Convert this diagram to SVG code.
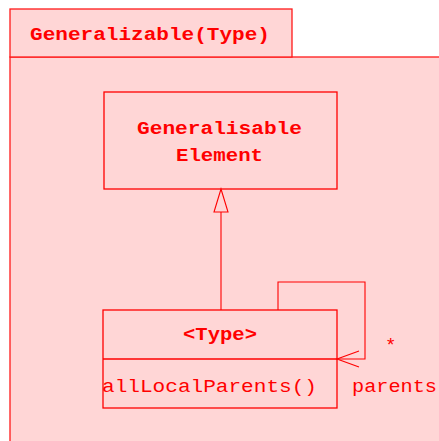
<svg xmlns="http://www.w3.org/2000/svg" width="439" height="441" viewBox="0 0 439 441">
<style>
.frame{fill:#ffd6d6;stroke:#ff1a1a;stroke-width:1.3}
.box{fill:none;stroke:#ff0000;stroke-width:1.3}
.ln{fill:none;stroke:#ff0000;stroke-width:1.1}
.t{font-family:"Liberation Mono","Courier New",monospace;font-size:19px;fill:#ff0000}
.b{font-weight:bold}
</style>
<rect width="439" height="441" fill="#ffffff"/>
<g id="frame">
<rect class="frame" x="10" y="57" width="440" height="400"/>
<rect class="frame" x="10" y="9" width="282" height="48"/>
<text class="t b" x="30" y="40" textLength="240" lengthAdjust="spacingAndGlyphs">Generalizable(Type)</text>
</g>
<g id="generalisable-element">
<rect class="box" x="104" y="92" width="233" height="97"/>
<text class="t b" x="137" y="134" textLength="165" lengthAdjust="spacingAndGlyphs">Generalisable</text>
<text class="t b" x="176" y="161" textLength="87" lengthAdjust="spacingAndGlyphs">Element</text>
</g>
<g id="type">
<rect class="box" x="103" y="310" width="234" height="98"/>
<line class="box" x1="103" y1="359" x2="337" y2="359"/>
<text class="t b" x="183" y="340" textLength="74" lengthAdjust="spacingAndGlyphs">&lt;Type&gt;</text>
<text class="t" x="102" y="392" textLength="215" lengthAdjust="spacingAndGlyphs">allLocalParents()</text>
</g>
<g id="connectors">
<line class="ln" x1="221" y1="212" x2="221" y2="310"/>
<polygon class="ln" points="221,189 214,212 228,212"/>
<polyline class="ln" points="278,310 278,282 365,282 365,359 337,359"/>
<polyline class="ln" points="359,351 337,359 359,367"/>
<text class="t" x="385" y="351">*</text>
<text class="t" x="352" y="392" textLength="85" lengthAdjust="spacingAndGlyphs">parents</text>
</g>
</svg>
